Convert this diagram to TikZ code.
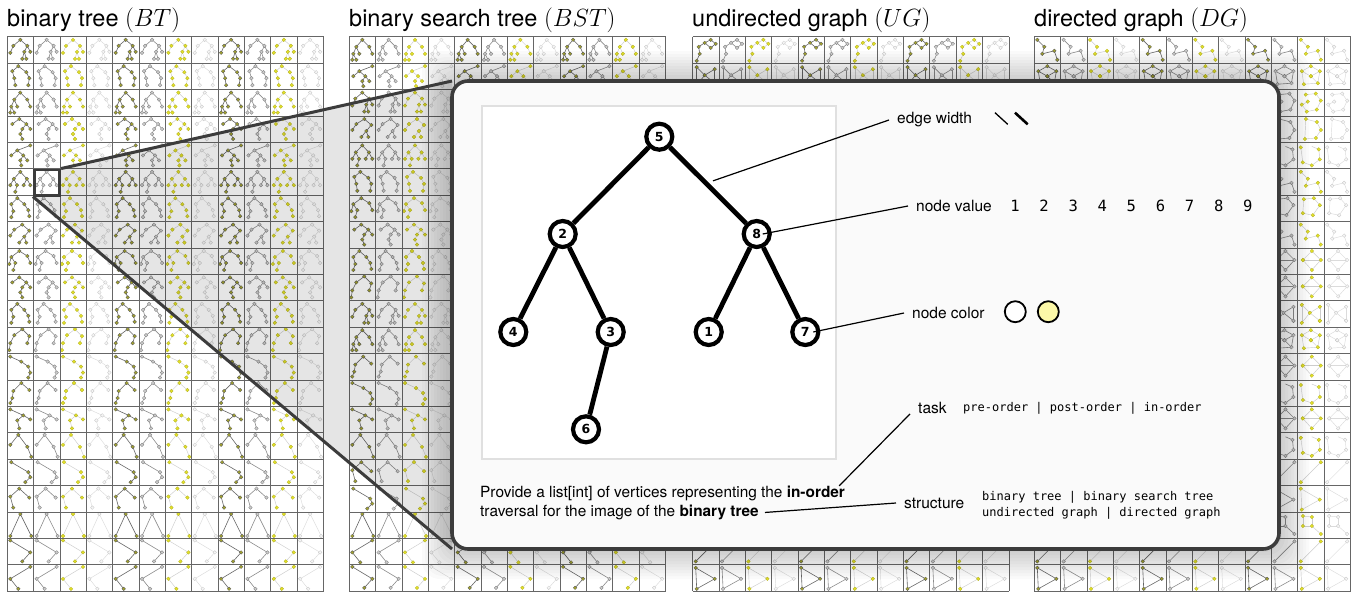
\documentclass[tikz,border=0pt]{standalone}
\usepackage{fontspec}
\setmainfont{TeX Gyre Heros}
\setmonofont{DejaVu Sans Mono}
\newfontfamily\vertexfont{DejaVu Sans}
\usepackage{tikz}
\usetikzlibrary{calc}
\definecolor{thOlive}{HTML}{A3A32E}
\definecolor{thYellow}{HTML}{E2E02A}
\definecolor{boxGray}{HTML}{3C3C3C}
\definecolor{nodeYellow}{HTML}{FCF8A8}
\definecolor{panelWhite}{HTML}{FAFAFA}
\tikzstyle{heading} = [anchor=base west, inner sep=0pt, font=\fontsize{23.5}{26}\selectfont]
\tikzstyle{vertex} = [circle, draw, line width=4.2pt, fill=white, minimum size=26pt, inner sep=0pt, font=\vertexfont\bfseries\fontsize{12.5}{12.5}\selectfont]
\tikzstyle{treeedge} = [line width=4.8pt]
\tikzstyle{callout} = [line width=1.2pt]
\tikzstyle{annot} = [anchor=west, inner sep=0pt, font=\fontsize{15.5}{18}\selectfont]
\tikzstyle{prompt} = [anchor=base west, inner sep=0pt, font=\fontsize{15.4}{18}\selectfont]
\tikzstyle{choice} = [anchor=west, inner sep=0pt, font=\ttfamily\fontsize{12}{15}\selectfont]
\tikzstyle{digit} = [inner sep=0pt, font=\ttfamily\fontsize{15.5}{15.5}\selectfont]
\tikzstyle{swatch} = [circle, draw, line width=1.8pt, minimum size=21pt, inner sep=0pt, fill=white]
% thumbnails: x/y of a vertex / x/y of the vertex it is joined to (cell pixels)
\def\thA{13/3/13/3, 6/9/13/3, 20/9/13/3, 3/16/6/9, 17/15/20/9, 23/15/20/9, 15/22/17/15, 19/22/17/15}
\def\thB{11/3/11/3, 5/8/11/3, 19/9/11/3, 7/15/5/8, 22/15/19/9, 8/22/7/15, 21/22/22/15}
\def\thC{13/3/13/3, 7/10/13/3, 20/10/13/3, 4/17/7/10, 10/17/7/10, 3/23/4/17, 7/23/4/17, 23/17/20/10}
\def\thD{12/3/12/3, 5/8/12/3, 19/8/12/3, 15/13/19/8, 23/13/19/8, 13/18/15/13, 15/23/13/18}
\def\thE{23/3/23/3, 10/8/23/3, 4/13/10/8, 16/13/10/8, 13/18/16/13, 20/18/16/13, 14/23/13/18}
\def\thF{13/3/13/3, 6.5/10/13/3, 19.6/10/13/3, 3/16.4/6.5/10, 9.7/16.4/6.5/10, 16.4/16.4/19.6/10, 23/16.4/19.6/10, 8/23/9.7/16.4}
\def\thG{10/3/10/3, 4/9/10/3, 17/9/10/3, 6/16/4/9, 4/22/6/16, 21/15/17/9, 22/21/21/15}
\def\thH{15/3/15/3, 7/8/15/3, 22/9/15/3, 3/14/7/8, 17/15/22/9, 19/21/17/15, 12/21/17/15}
\def\thI{12/3/12/3, 4/9/12/3, 20/8/12/3, 2/16/4/9, 8/15/4/9, 6/22/8/15, 23/15/20/8}
\def\thJ{15/2/15/2, 7/8/15/2, 22/9/15/2, 3/16/7/8, 2/23/3/16, 20/16/22/9}
\def\thK{3/3/3/3, 14/8/3/3, 21/13/14/8, 23/19/21/13, 21/24/23/19}
\def\thL{14/3/14/3, 6/11/14/3, 22/10/14/3, 5/18/6/11, 3/23/5/18}
\def\thM{3/3/3/3, 16/9/3/3, 10/14/16/9, 23/13/16/9, 12/22/10/14}
\def\thN{11/2/11/2, 3/12/11/2, 20/14/11/2, 24/24/20/14}
\def\thO{4/3/4/3, 21/13/4/3, 23/18/21/13, 18/23/23/18}
\def\thP{12/3/12/3, 3/11/12/3, 22/12/12/3, 6/22/3/11}
\def\thQ{13/2/13/2, 3/24/13/2, 24/24/13/2}
\def\thR{3/2/3/2, 23/14/3/2, 15/23/23/14}
\def\thS{23/2/23/2, 3/14/23/2, 11/24/3/14}
\def\tgA{4/24/7/17, 7/17/6/10, 6/10/12/6, 12/6/18/3, 18/3/23/7, 23/7/18/11, 18/11/12/6}
\def\tgB{6/4/16/3, 16/3/22/10, 22/10/15/20, 15/20/5/18, 5/18/6/4}
\def\tgC{8/3/19/6, 19/6/23/14, 23/14/18/22, 18/22/7/23, 7/23/8/3}
\def\tgD{3/5/5/20, 5/20/14/23, 14/23/22/17, 22/17/21/7, 21/7/14/4}
\def\tgE{3/3/22/14, 22/14/4/24, 4/24/3/3}
\def\tgF{5/12/14/3, 14/3/23/12, 23/12/14/22, 14/22/5/12, 5/12/23/12}
\def\tgG{3/3/10/10, 10/10/8/17, 8/17/20/14, 20/14/23/23, 23/23/23/23}
\def\tgH{5/4/5/14, 5/14/14/14, 14/14/14/5, 14/5/5/4, 23/22/14/14}
\def\tgI{8/5/18/4, 18/4/23/11, 23/11/19/20, 19/20/9/22, 9/22/4/15, 4/15/10/12, 10/12/10/12}
\def\tgJ{4/4/12/12, 12/12/4/22, 4/22/4/4, 22/6/12/12, 22/20/22/6, 22/20/12/12}
\def\tgK{3/23/23/3, 23/3/23/3}
\def\tgL{4/8/13/3, 13/3/22/8, 22/8/20/20, 20/20/6/21, 6/21/4/8, 13/13/4/8, 13/13/22/8, 13/13/20/20}
\newcommand{\thumbgrid}[2]{%
  \foreach \shp [count=\r from 0] in {#2}{%
    \edef\shapelist{\shp}%
    \foreach \g in {0,1,2}{%
      \foreach \k/\ec/\ew/\nf/\nd in {0/black!60/.6pt/thOlive/black!65,
          1/black!45/.6pt/gray!40/black!50, 2/black!20/.45pt/thYellow/thYellow!80!black,
          3/black!14/.45pt/gray!8/black!22}{%
        \pgfmathsetmacro\cx{#1+\cw*(4*\g+\k)}%
        \pgfmathsetmacro\cy{36.8+\ch*\r}%
        \pgfmathtruncatemacro\hidden{(\cx>449)&&(\cx<1254)&&(\cy>78)&&(\cy<524)}%
        \ifnum\hidden=0
          \begin{scope}[shift={(\cx,\cy)}]
            \foreach \x/\y/\px/\py in \shapelist
              \draw[draw=\ec,line width=\ew] (\x,\y)--(\px,\py);
            \foreach \x/\y/\px/\py in \shapelist
              \filldraw[fill=\nf,draw=\nd,line width=.3pt] (\x,\y) circle (1.8pt);
          \end{scope}
        \fi
      }}}%
  \foreach \i in {0,...,12}
    \draw[black!60,line width=.8pt] (#1+\cw*\i,36.8) -- ++(0,21*\ch);
  \foreach \j in {0,...,21}
    \draw[black!60,line width=.8pt] (#1,36.8+\ch*\j) -- ++(12*\cw,0);
}

\begin{document}
\begin{tikzpicture}[x=1pt,y=-1pt]
  \def\cw{26.35}
  \def\ch{26.4}
  \useasboundingbox[fill=white] (0,0) rectangle (1354,592);
  \node[heading] (tBT) at (7,26) {binary tree $(BT)$};
  \node[heading] (tBST) at (349,26) {binary search tree $(BST)$};
  \node[heading] (tUG) at (692,26) {undirected graph $(UG)$};
  \node[heading] (tDG) at (1034,26) {directed graph $(DG)$};
  \thumbgrid{7.3}{\thA,\thB,\thC,\thD,\thE,\thF,\thG,\thH,\thI,\thD,\thG,\thJ,\thK,\thL,\thM,\thN,\thO,\thP,\thQ,\thR,\thS}
  \thumbgrid{349.3}{\thC,\thE,\thA,\thH,\thF,\thB,\thI,\thD,\thG,\thJ,\thA,\thC,\thL,\thK,\thM,\thN,\thP,\thO,\thQ,\thS,\thR}
  \thumbgrid{692.7}{\tgA,\tgJ,\tgI,\tgB,\tgD,\tgL,\tgC,\tgF,\tgG,\tgH,\tgJ,\tgE,\tgB,\tgD,\tgC,\tgF,\tgG,\tgI,\tgE,\tgK,\tgE}
  \thumbgrid{1034.3}{\tgG,\tgL,\tgI,\tgC,\tgD,\tgG,\tgB,\tgG,\tgF,\tgF,\tgJ,\tgL,\tgF,\tgD,\tgF,\tgD,\tgK,\tgE,\tgH,\tgK,\tgE}
  \coordinate (pnw) at (452,81);
  \coordinate (psw) at (452,549);
  \coordinate (pse) at (1279,549);
  \node[draw=boxGray,line width=2.6pt,minimum size=25.5pt,inner sep=0pt] (zoombox) at (47,182.6) {};
  \fill[black,opacity=.1] (zoombox.north east) -- (pnw) -- (psw) -- (zoombox.south west) -- (zoombox.south east) -- cycle;
  \foreach \i in {1,...,10}
    \fill[black,opacity=.02,rounded corners=18pt] ($(pnw)+(-3*\i,-3*\i)$) rectangle ($(pse)+(3*\i,3*\i)$);
  \draw[boxGray,line width=3pt] (zoombox.north east) -- (pnw) (zoombox.south west) -- (psw);
  \draw[boxGray,line width=3.6pt,fill=panelWhite,rounded corners=16pt] (pnw) rectangle (pse);
  \draw[black!12,line width=1.5pt,fill=white] (482,106) rectangle (836,459);
  % the zoomed tree
  \node[vertex] (n5) at (659.3,136.7) {5};
  \node[vertex] (n2) at (562.7,234) {2};
  \node[vertex] (n8) at (756.7,234) {8};
  \node[vertex] (n4) at (513.3,332) {4};
  \node[vertex] (n3) at (610.7,332) {3};
  \node[vertex] (n1) at (708.7,332) {1};
  \node[vertex] (n7) at (805.3,332) {7};
  \node[vertex] (n6) at (586,429.3) {6};
  \foreach \a/\b in {n5/n2, n5/n8, n2/n4, n2/n3, n3/n6, n8/n1, n8/n7}
    \draw[treeedge] (\a) -- (\b);
  \node[annot] (lEdge) at (897,120) {edge width};
  \node[annot] (lValue) at (916,206) {node value};
  \node[annot] (lColor) at (912,313) {node color};
  \node[annot] (lTask) at (918,408) {task};
  \node[annot] (lStruct) at (904,503) {structure};
  \draw[line width=1.3pt] (995,112.7) -- (1007.7,124.3);
  \draw[line width=2.6pt] (1015,112.7) -- (1027.7,124.3);
  \foreach \v [count=\i from 0] in {1,...,9}
    \node[digit] (d\v) at (1015+29.1*\i,206) {\v};
  \node[swatch] (swWhite) at (1015.3,311.7) {};
  \node[swatch,fill=nodeYellow] (swYellow) at (1048.3,311.7) {};
  \node[choice] (cTask) at (963,408) {pre-order | post-order | in-order};
  \node[choice] (cBin) at (982,497) {binary tree | binary search tree};
  \node[choice] (cGraph) at (982,513) {undirected graph | directed graph};
  \node[prompt] (p1) at (480,497.5) {Provide a list[int] of vertices representing the \textbf{in-order}};
  \node[prompt] (p2) at (480,516.5) {traversal for the image of the \textbf{binary tree}};
  \coordinate (ew) at ($(n5)!.5!(n8)+(5,-4.5)$);
  \draw[callout] (ew) -- ([xshift=-8pt]lEdge.west);
  \draw[callout] ([xshift=6pt]n8.center) -- ([xshift=-8pt]lValue.west);
  \draw[callout] ([xshift=8pt]n7.center) -- ([xshift=-8pt]lColor.west);
  \draw[callout] ([xshift=-6pt]p1.north east) -- ([xshift=-8pt]lTask.south west);
  \draw[callout] ([xshift=6pt]p2.east) -- ([xshift=-8pt]lStruct.west);
\end{tikzpicture}
\end{document}
